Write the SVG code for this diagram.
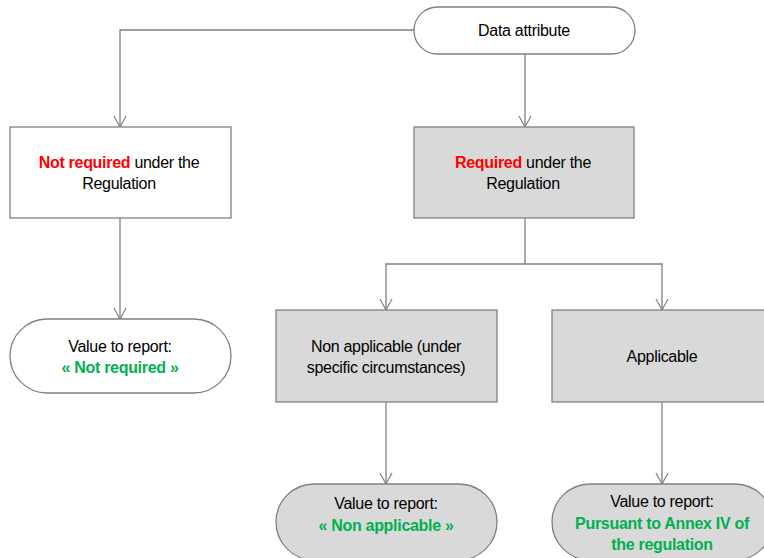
<svg xmlns="http://www.w3.org/2000/svg" width="764" height="558" viewBox="0 0 764 558">
<defs>
<marker id="arr" markerWidth="14" markerHeight="14" refX="12" refY="7" orient="auto" markerUnits="userSpaceOnUse" viewBox="0 0 14 14">
<path d="M1,1 L12,7 L1,13" fill="none" stroke="#808080" stroke-width="1.2"/>
</marker>
<style>
.n{stroke:#808080;stroke-width:1.3}
.w{fill:#ffffff}
.g{fill:#d9d9d9}
.c{fill:none;stroke:#808080;stroke-width:1.3}
text{font-family:"Liberation Sans",Arial,sans-serif;font-size:16px;fill:#000;text-anchor:middle;letter-spacing:-0.3px}
.red{fill:#ff0000;font-weight:bold}
.grn{fill:#00b050;font-weight:bold}
</style>
</defs>
<rect width="764" height="558" fill="#ffffff"/>
<g id="connectors">
<path class="c" d="M414,30 H120 V127" marker-end="url(#arr)"/>
<path class="c" d="M525,54 V127" marker-end="url(#arr)"/>
<path class="c" d="M120,218 V319" marker-end="url(#arr)"/>
<path class="c" d="M525,218 V264"/>
<path class="c" d="M525,264 H386 V310" marker-end="url(#arr)"/>
<path class="c" d="M525,264 H662 V310" marker-end="url(#arr)"/>
<path class="c" d="M386,402 V484" marker-end="url(#arr)"/>
<path class="c" d="M662,402 V484" marker-end="url(#arr)"/>
</g>
<g id="data-attribute">
<rect class="n w" x="414" y="7" width="221" height="47" rx="23.5"/>
<text x="524" y="36">Data attribute</text>
</g>
<g id="not-required">
<rect class="n w" x="10" y="127" width="221" height="91"/>
<text x="119" y="168"><tspan class="red">Not required</tspan> under the</text>
<text x="119" y="189">Regulation</text>
</g>
<g id="required">
<rect class="n g" x="414" y="127" width="220" height="91"/>
<text x="523" y="168"><tspan class="red">Required</tspan> under the</text>
<text x="523" y="189">Regulation</text>
</g>
<g id="value-not-required">
<rect class="n w" x="10" y="319" width="221" height="74" rx="37"/>
<text x="120" y="352">Value to report:</text>
<text x="120" y="373" class="grn">« Not required »</text>
</g>
<g id="non-applicable">
<rect class="n g" x="276" y="310" width="221" height="92"/>
<text x="386" y="352">Non applicable (under</text>
<text x="386" y="373">specific circumstances)</text>
</g>
<g id="applicable">
<rect class="n g" x="552" y="310" width="221" height="92"/>
<text x="662" y="362">Applicable</text>
</g>
<g id="value-non-applicable">
<rect class="n g" x="276" y="484" width="221" height="76" rx="38"/>
<text x="386" y="509">Value to report:</text>
<text x="386" y="531" class="grn">« Non applicable »</text>
</g>
<g id="value-applicable">
<rect class="n g" x="552" y="484" width="221" height="76" rx="38"/>
<text x="662" y="507">Value to report:</text>
<text x="662" y="529" class="grn">Pursuant to Annex IV of</text>
<text x="662" y="550" class="grn">the regulation</text>
</g>
</svg>
